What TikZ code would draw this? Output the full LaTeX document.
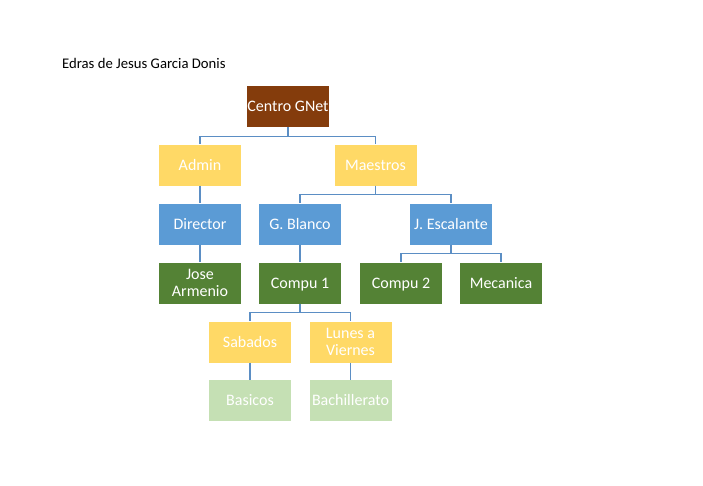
\documentclass[tikz,border=0pt]{standalone}
\usepackage{fontspec}
\setmainfont{Carlito}
\usetikzlibrary{positioning}
\definecolor{cafe}{HTML}{843C0C}
\definecolor{amarillo}{HTML}{FFD966}
\definecolor{azul}{HTML}{5B9BD5}
\definecolor{verde}{HTML}{548235}
\definecolor{verdeclaro}{HTML}{C5E0B4}
\definecolor{linea}{HTML}{5B8EC4}
\tikzset{caja/.style = {minimum width=82pt, minimum height=41pt, inner sep=0pt,
                        text=white, align=center, text height=12.5pt, text depth=2pt,
                        font=\fontsize{16}{17}\selectfont}}
\tikzset{doble/.style = {text height=, text depth=}}
\tikzset{link/.style = {draw=linea, line width=1.1pt}}

\begin{document}
\begin{tikzpicture}[x=1pt, y=-1pt]
      \useasboundingbox (0, 0) rectangle (703, 485);
      \node [anchor=west, inner sep=0pt, font=\fontsize{14.7}{16}\selectfont] (autor) at (62, 63) {Edras de Jesus Garcia Donis};
      \node [caja, fill=cafe] (centro) at (288, 106.5) {Centro GNet};
      \node [caja, fill=amarillo] (admin) at (200, 165) {Admin};
      \node [caja, fill=amarillo] (maestros) at (375.5, 165) {Maestros};
      \node [caja, fill=azul] (director) at (200, 224) {Director};
      \node [caja, fill=azul] (blanco) at (300, 224) {G. Blanco};
      \node [caja, fill=azul] (escalante) at (451, 224) {J. Escalante};
      \node [caja, doble, fill=verde] (jose) at (200, 283) {Jose\\Armenio};
      \node [caja, fill=verde] (compu1) at (300, 283) {Compu 1};
      \node [caja, fill=verde] (compu2) at (401, 283) {Compu 2};
      \node [caja, fill=verde] (mecanica) at (501, 283) {Mecanica};
      \node [caja, fill=amarillo] (sabados) at (250, 342) {Sabados};
      \node [caja, doble, fill=amarillo] (lunes) at (350.5, 342) {Lunes a\\Viernes};
      \node [caja, fill=verdeclaro] (basicos) at (250, 400.5) {Basicos};
      \node [caja, fill=verdeclaro] (bachi) at (350.5, 400.5) {Bachillerato};
      \draw [link] (centro.south) -- ++(0, 9.5) -| (admin.north);
      \draw [link] (centro.south) -- ++(0, 9.5) -| (maestros.north);
      \draw [link] (admin) -- (director);
      \draw [link] (maestros.south) -- ++(0, 9) -| (blanco.north);
      \draw [link] (maestros.south) -- ++(0, 9) -| (escalante.north);
      \draw [link] (director) -- (jose);
      \draw [link] (blanco) -- (compu1);
      \draw [link] (escalante.south) -- ++(0, 9) -| (compu2.north);
      \draw [link] (escalante.south) -- ++(0, 9) -| (mecanica.north);
      \draw [link] (compu1.south) -- ++(0, 9) -| (sabados.north);
      \draw [link] (compu1.south) -- ++(0, 9) -| (lunes.north);
      \draw [link] (sabados) -- (basicos);
      \draw [link] (lunes) -- (bachi);
    \end{tikzpicture}
\end{document}
